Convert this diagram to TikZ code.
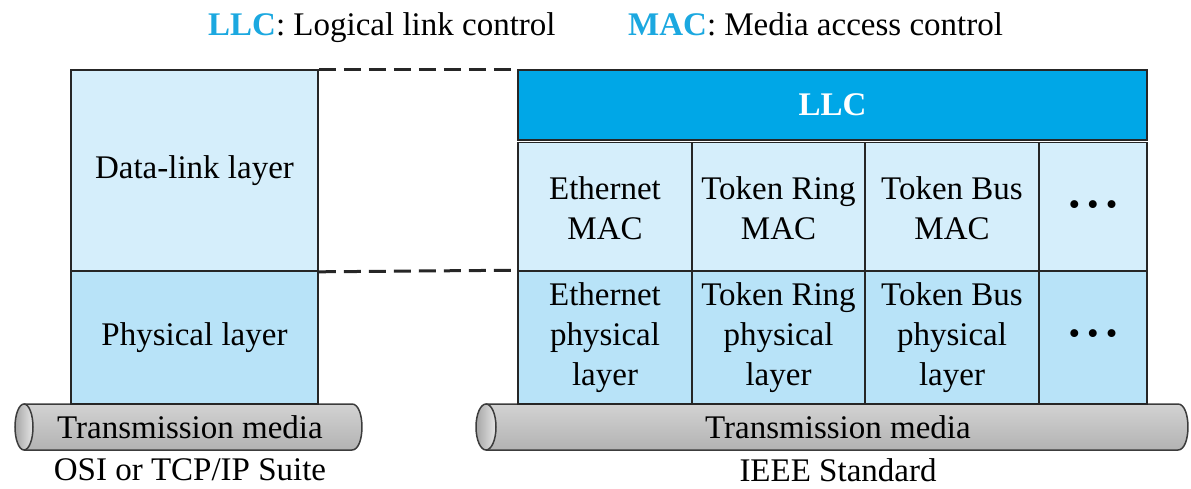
\documentclass[tikz,border=0pt]{standalone}
\usepackage{fontspec}
\setmainfont{Liberation Serif}
\newfontfamily\tnrfont{Liberation Serif}
\definecolor{dlfill}{RGB}{213,238,251}
\definecolor{phfill}{RGB}{184,227,248}
\definecolor{llcfill}{RGB}{0,167,231}
\definecolor{llctext}{RGB}{27,168,224}
\definecolor{cylline}{RGB}{60,60,60}
\begin{document}
\begin{tikzpicture}[x=1pt,y=-1pt,
  txt/.style={font=\tnrfont\fontsize{33}{40}\selectfont, align=center, inner sep=0pt},
  cell/.style={txt, draw=black!85, line width=1.6pt, rectangle},
  dl/.style={cell, fill=dlfill},
  ph/.style={cell, fill=phfill},
  dashconn/.style={draw=black!85, line width=3pt, dash pattern=on 17pt off 8pt},
  cylbody/.style={top color=gray!35, middle color=gray!5, bottom color=gray!60},
  cylcap/.style={left color=gray!70, right color=gray!20},
  cyledge/.style={draw=cylline, line width=1.5pt}
]
\useasboundingbox (0,0) rectangle (1191,488);

% header
\node[txt, anchor=base west] (hdr1) at (208,35) {\textcolor{llctext}{\textbf{LLC}}: Logical link control};
\node[txt, anchor=base west] (hdr2) at (628,35) {\textcolor{llctext}{\textbf{MAC}}: Media access control};

% cylinders
\shade[cylbody] (24,404) -- (352,404) .. controls (365.3,404) and (365.3,450) .. (352,450) -- (24,450) -- cycle;
\draw[cyledge] (24,404) -- (352,404) .. controls (365.3,404) and (365.3,450) .. (352,450) -- (24,450);
\shade[cylcap] (24,427) ellipse (9 and 23);
\draw[cyledge] (24,427) ellipse (9 and 23);

\shade[cylbody] (486,404) -- (1178,404) .. controls (1191.3,404) and (1191.3,450) .. (1178,450) -- (486,450) -- cycle;
\draw[cyledge] (486,404) -- (1178,404) .. controls (1191.3,404) and (1191.3,450) .. (1178,450) -- (486,450);
\shade[cylcap] (486,427) ellipse (10 and 23);
\draw[cyledge] (486,427) ellipse (10 and 23);

\node[txt] (tm1) at (190,427) {Transmission media};
\node[txt] (tm2) at (838,427) {Transmission media};
\node[txt] (osi) at (190,470) {OSI or TCP/IP Suite};
\node[txt] (ieee) at (838,470) {IEEE Standard};

% left stack
\node[dl, minimum width=247, minimum height=201] (dll) at (194.5,170.5) {Data-link layer};
\node[ph, minimum width=247, minimum height=133] (phl) at (194.5,337.5) {Physical layer};

% right stack
\node[cell, fill=llcfill, minimum width=629, minimum height=70, text=white] (llc) at (832.5,105) {\textbf{LLC}};
\node[dl, minimum width=174, minimum height=131] (mac1) at (605,208) {Ethernet\\MAC};
\node[dl, minimum width=173, minimum height=131] (mac2) at (778.5,208) {Token Ring\\MAC};
\node[dl, minimum width=174, minimum height=131] (mac3) at (952,208) {Token Bus\\MAC};
\node[dl, minimum width=108, minimum height=131] (mac4) at (1093,208) {\textbullet\hspace{7pt}\textbullet\hspace{7pt}\textbullet};
\node[ph, minimum width=174, minimum height=133] (phy1) at (605,337.5) {Ethernet\\physical\\layer};
\node[ph, minimum width=173, minimum height=133] (phy2) at (778.5,337.5) {Token Ring\\physical\\layer};
\node[ph, minimum width=174, minimum height=133] (phy3) at (952,337.5) {Token Bus\\physical\\layer};
\node[ph, minimum width=108, minimum height=133] (phy4) at (1093,337.5) {\textbullet\hspace{7pt}\textbullet\hspace{7pt}\textbullet};

% dashed correspondence lines
\draw[dashconn] (dll.north east) -- (llc.north west);
\draw[dashconn] (dll.south east) -- (phy1.north west);
\end{tikzpicture}
\end{document}
